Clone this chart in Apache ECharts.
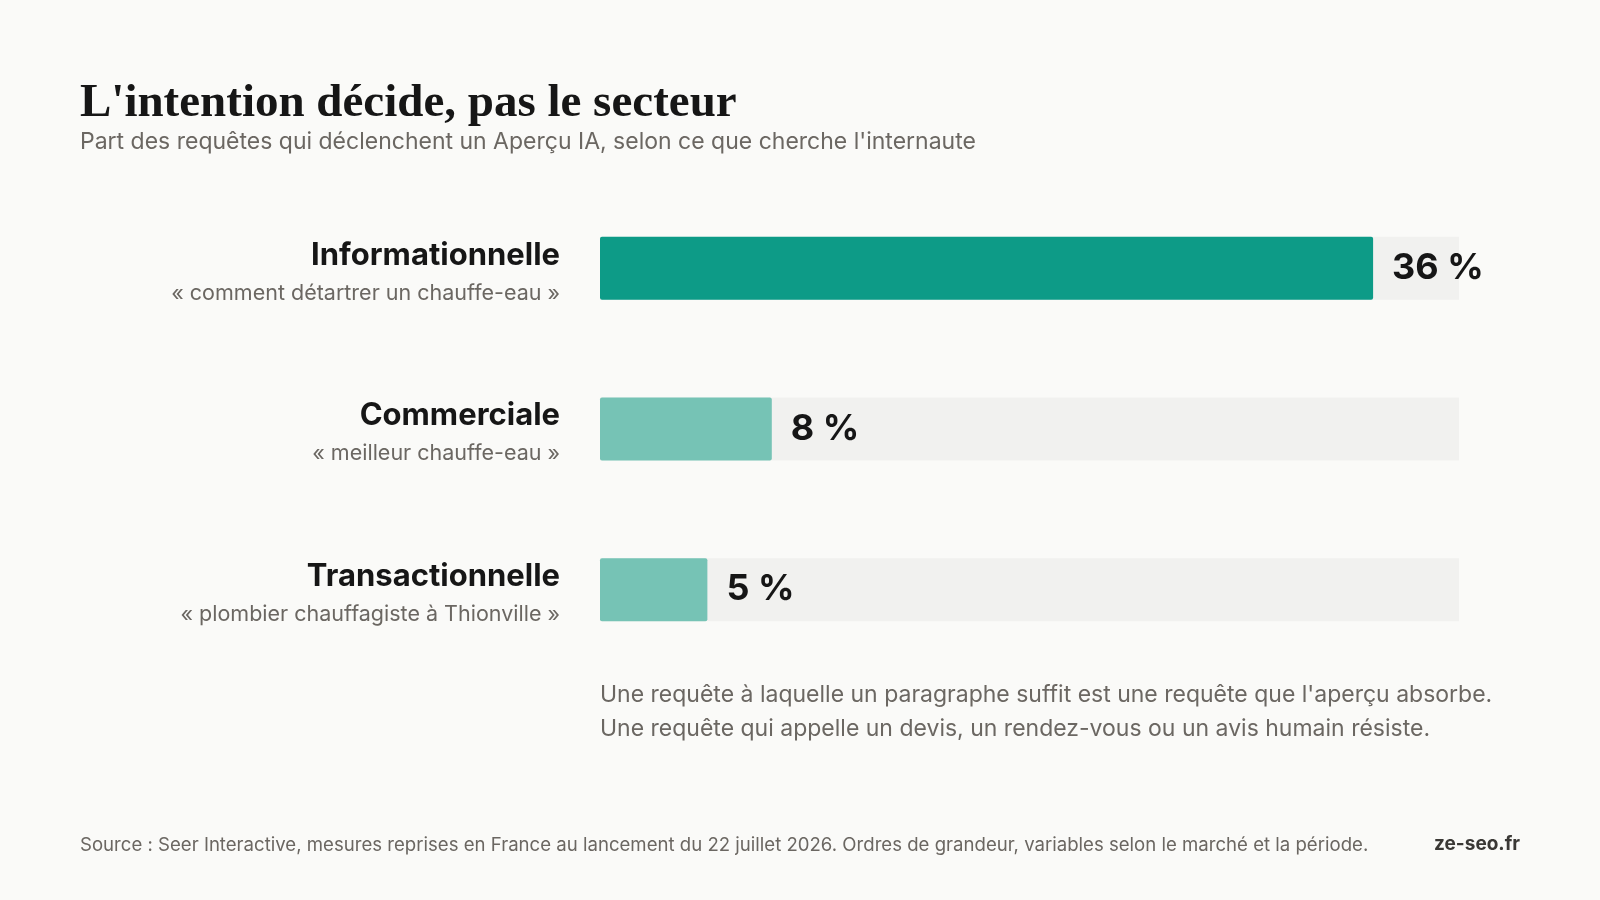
<!DOCTYPE html>
<html><head><meta charset="utf-8">
<script src="https://cdn.jsdelivr.net/npm/echarts@6/dist/echarts.min.js"></script>
<style>html,body{margin:0;background:#fafaf8}#c{width:1600px;height:900px}</style>
</head><body><div id="c"></div>
<script>
const categories = ['Informationnelle','Commerciale','Transactionnelle'];
const examples = ['« comment détartrer un chauffe-eau »','« meilleur chauffe-eau »','« plombier chauffagiste à Thionville »'];
const values = [36, 8, 5];
const trackMax = 40;
const colors = ['#0d9b87','#76c3b5','#76c3b5'];
const sans = 'Inter, "Noto Sans", sans-serif';
const chart = echarts.init(document.getElementById('c'));
chart.setOption({
  backgroundColor:'#fafaf8',
  animation:false,
  grid:{left:600, width:859, top:188, height:482},
  xAxis:{type:'value', min:0, max:trackMax, show:false},
  yAxis:{type:'category', inverse:true, data:categories, axisLine:{show:false}, axisTick:{show:false},
    axisLabel:{margin:40, align:'right', padding:[8,0,0,0], formatter:(v,i)=>'{a|'+v+'}\n{b|'+examples[i]+'}',
      rich:{a:{fontFamily:sans,fontWeight:'bold',fontSize:31,color:'#161616',align:'right',lineHeight:42},
            b:{fontFamily:sans,fontSize:21.5,color:'#6b6762',align:'right',lineHeight:34}}}},
  series:[
    {type:'bar', data:categories.map(()=>trackMax), barWidth:63, itemStyle:{color:'#f1f1ef'}, silent:true, barGap:'-100%'},
    {type:'bar', data:values.map((v,i)=>({value:v,itemStyle:{color:colors[i],borderRadius:2}})), barWidth:63, barGap:'-100%',
     label:{show:true, position:'right', distance:19, formatter:p=>p.value+' %', fontFamily:sans, fontWeight:'bold', fontSize:36, color:'#161616'}}
  ],
  graphic:[
    {type:'text', left:80, top:80, style:{text:"L'intention décide, pas le secteur", font:'bold 47px "Liberation Serif", serif', fill:'#161616'}},
    {type:'text', left:80, top:131, style:{text:"Part des requêtes qui déclenchent un Aperçu IA, selon ce que cherche l'internaute", font:'23px '+sans, fill:'#6b6762'}},
    {type:'text', left:600, top:678, style:{text:"Une requête à laquelle un paragraphe suffit est une requête que l'aperçu absorbe.\nUne requête qui appelle un devis, un rendez-vous ou un avis humain résiste.", font:'23px '+sans, fill:'#6b6762', lineHeight:34}},
    {type:'text', left:80, top:836, style:{text:"Source : Seer Interactive, mesures reprises en France au lancement du 22 juillet 2026. Ordres de grandeur, variables selon le marché et la période.", font:'18.6px '+sans, fill:'#6b6762'}},
    {type:'text', right:80, top:835, style:{text:"ze-seo.fr", font:'bold 19px '+sans, fill:'#3a3835'}}
  ]
});
</script></body></html>
